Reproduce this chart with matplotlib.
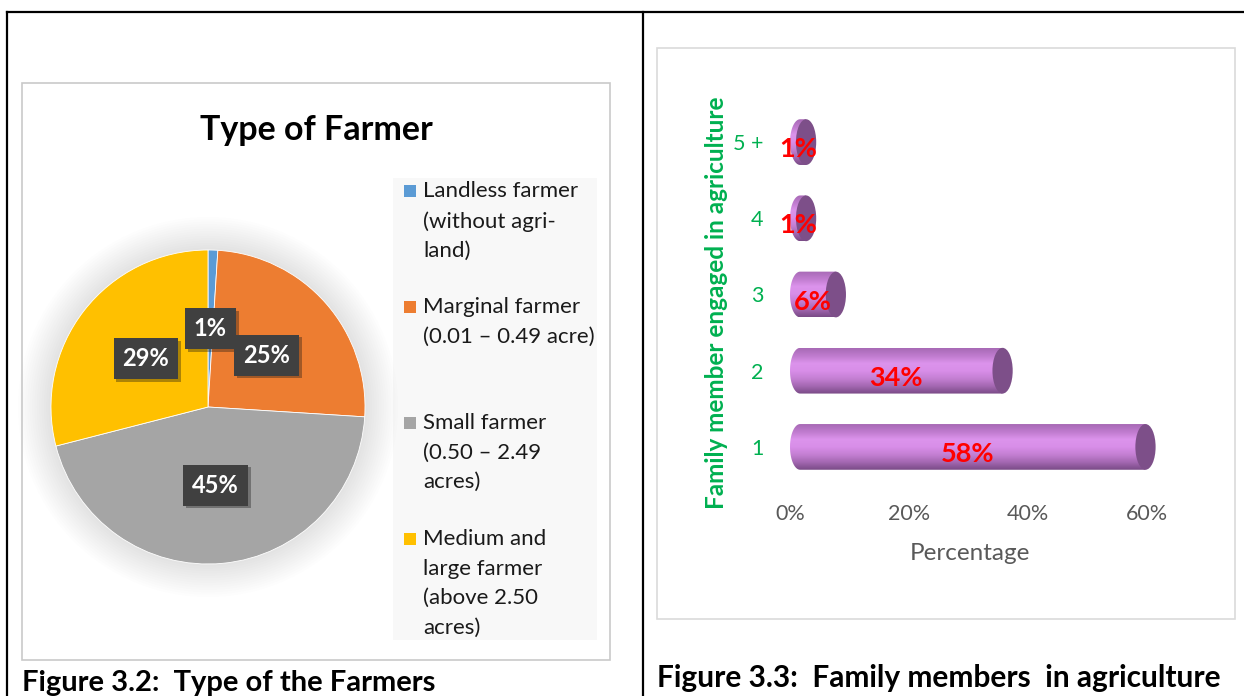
import matplotlib
matplotlib.use('Agg')
import numpy as np
import matplotlib.pyplot as plt
import matplotlib.transforms as mtransforms
import matplotlib.patheffects as pe
from matplotlib.patches import Rectangle, Ellipse, PathPatch, Circle
from matplotlib.path import Path
from matplotlib.lines import Line2D
from matplotlib.colors import LinearSegmentedColormap

W, H = 1244, 696

# Figure 3.2 - type of farmer (pie)
farmer_types = ['Landless farmer\n(without agri-\nland)',
                'Marginal farmer\n(0.01 – 0.49 acre)',
                'Small farmer\n(0.50 – 2.49\nacres)',
                'Medium and\nlarge farmer\n(above 2.50\nacres)']
farmer_share = [1, 25, 45, 29]
farmer_colors = ['#5B9BD5', '#ED7D31', '#A5A5A5', '#FFC000']

# Figure 3.3 - family members engaged in agriculture (cylinder bars)
members = ['1', '2', '3', '4', '5 +']
member_share = [58, 34, 6, 1, 1]
pct_ticks = [0, 20, 40, 60]

plt.rcParams['font.family'] = ['Lato', 'DejaVu Sans']

fig = plt.figure(figsize=(W / 100, H / 100), dpi=100)


def fx(x):
    return x / W


def fy(y):
    return 1 - y / H


def box(x0, y0, x1, y1):
    # pixel box (top-left origin) -> figure fraction rect
    return [x0 / W, 1 - y1 / H, (x1 - x0) / W, (y1 - y0) / H]


# table borders
for xs, ys in [([7, W], [12, 12]), ([7, 7], [12, H]), ([643, 643], [12, H])]:
    fig.add_artist(Line2D([fx(x) for x in xs], [fy(y) for y in ys], color='black', lw=1.6))
fig.add_artist(Rectangle((fx(22), fy(660)), (610 - 22) / W, (660 - 83) / H,
                         fill=False, ec='#C9C9C9', lw=1.2))
fig.add_artist(Rectangle((fx(657), fy(619)), (1235 - 657) / W, (619 - 48) / H,
                         fill=False, ec='#DADADA', lw=1.2))

# ---- pie ----
cx, cy, R = 208, 407, 157
ax1 = fig.add_axes(box(cx - 200, cy - 200, cx + 200, cy + 200))
for k in range(14):
    ax1.add_patch(Circle((0, 0), 1 + 0.015 * (k + 1), color='#808080', alpha=0.014, lw=0, zorder=0))
wedges, texts, autotexts = ax1.pie(
    farmer_share, colors=farmer_colors, startangle=90, counterclock=False, radius=1,
    autopct=lambda p: f'{p:.0f}%', pctdistance=0.5,
    wedgeprops=dict(edgecolor='white', linewidth=0.6))
for t in autotexts:
    t.set_color('white')
    t.set_fontsize(17)
    t.set_fontweight('bold')
    t.set_bbox(dict(boxstyle='square,pad=0.38', fc='#404040', ec='none'))
    t.get_bbox_patch().set_path_effects([pe.SimplePatchShadow(offset=(2, -2), alpha=0.35), pe.Normal()])
lim = 200 / R
ax1.set_xlim(-lim, lim)
ax1.set_ylim(-lim, lim)
ax1.set_aspect('equal')
ax1.axis('off')

fig.text(fx(316), fy(130), 'Type of Farmer', ha='center', va='center',
         fontsize=24.5, fontweight='bold', color='black')

# legend
fig.add_artist(Rectangle((fx(393), fy(640)), (597 - 393) / W, (640 - 178) / H,
                         fc='#F8F8F8', ec='none', zorder=0))
for i, (lab, col) in enumerate(zip(farmer_types, farmer_colors)):
    ytop = 191 + i * 116
    fig.add_artist(Rectangle((fx(404), fy(ytop + 6)), 12 / W, 12 / H, fc=col, ec='none'))
    fig.text(fx(423), fy(ytop - 10), lab, ha='left', va='top', fontsize=16,
             linespacing=1.6, color='#1A1A1A')

# ---- cylinder bars ----
ax2 = fig.add_axes(box(790, 104, 1183, 485))
ax2.set_facecolor('none')
cyl_cmap = LinearSegmentedColormap.from_list(
    'cyl', ['#7A4B87', '#A468B2', '#C47FD3', '#D88EE8', '#DC93EC', '#C07CCF', '#A86AB6'])
grad = np.linspace(0, 1, 64).reshape(-1, 1)
a = 1.7   # half width of the end ellipse (data units)
h = 0.6   # bar thickness
shift = mtransforms.ScaledTranslation(0, -0.07, fig.dpi_scale_trans)
for i, v in enumerate(member_share):
    y0, y1 = i - h / 2, i + h / 2
    t = np.linspace(np.pi / 2, 3 * np.pi / 2, 40)
    left = np.column_stack([a + a * np.cos(t), i + h / 2 * np.sin(t)])
    verts = np.vstack([[[a + v, y1]], left, [[a + v, y0]], [[a + v, y1]]])
    body = PathPatch(Path(verts), fc='none', ec='none')
    ax2.add_patch(body)
    im = ax2.imshow(grad, cmap=cyl_cmap, aspect='auto', extent=(0, a + v, y0, y1),
                    origin='lower', zorder=2, interpolation='bicubic')
    im.set_clip_path(body)
    ax2.add_patch(Ellipse((a + v, i), 2 * a, h, fc='#7D4F89', ec='none', zorder=3))
    ax2.text((a + v) / 2, i, f'{v}%', color='#FF0000', fontweight='bold', fontsize=19.5,
             ha='center', va='center', zorder=4, transform=ax2.transData + shift)

ax2.set_xlim(0, 66)
ax2.set_ylim(-0.5, 4.5)
ax2.set_xticks(pct_ticks, [f'{p}%' for p in pct_ticks])
ax2.set_yticks(range(len(members)), members)
for lab in ax2.get_yticklabels():
    lab.set_transform(lab.get_transform() + shift)
ax2.tick_params(axis='y', length=0, pad=19, labelsize=15.5, labelcolor='#00B050')
ax2.tick_params(axis='x', length=0, pad=14, labelsize=15.5, labelcolor='#595959')
for s in ax2.spines.values():
    s.set_visible(False)

fig.text(fx(970), fy(553), 'Percentage', ha='center', va='center', fontsize=17.5, color='#595959')
fig.text(fx(717), fy(303), 'Family member engaged in agriculture', ha='center', va='center',
         rotation=90, fontsize=17.5, fontweight='bold', color='#00B050')

# captions
fig.text(fx(22), fy(683), 'Figure 3.2:  Type of the Farmers', ha='left', va='center',
         fontsize=21, fontweight='bold')
fig.text(fx(657), fy(678), 'Figure 3.3:  Family members  in agriculture', ha='left', va='center',
         fontsize=21.5, fontweight='bold')

fig.savefig('out.png', dpi=100)
